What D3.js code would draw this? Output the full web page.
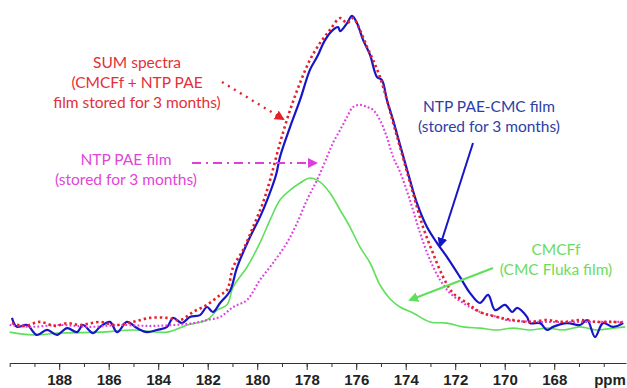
<!DOCTYPE html>
<html>
<head>
<meta charset="utf-8">
<script src="https://cdn.jsdelivr.net/npm/d3@7"></script>
<style>
  body { margin: 0; background: #fff; }
  svg { display: block; }
  .note { font-family: Lato, "Open Sans", sans-serif; font-size: 15.5px; }
  .axis text { font-family: "Liberation Sans Narrow", "Arial Narrow", "Liberation Sans", sans-serif; font-weight: bold; font-size: 15px; fill: #222; }
</style>
</head>
<body>
<div id="chart"></div>
<script>
// chemical shift (ppm) vs intensity
const pptCmcFilm = [ // NTP PAE-CMC film
  [189.91, 2.3], [189.71, -0.6], [189.30, 0], [188.90, -3.2], [188.49, -1.6], [188.09, -3.2],
  [187.68, -1.0], [187.28, -2.3], [187.04, 0], [186.63, -2.6], [186.35, -0.6], [185.95, 1.0],
  [185.66, -2.3], [185.26, 1.0], [184.86, -1.0], [184.45, -2.3], [184.05, -1.6], [183.64, -0.6],
  [183.40, 2.3], [183.04, 0.6], [182.72, 2.6], [182.31, 3.2], [182.03, 5.8], [181.79, 4.2],
  [181.50, 7.1], [181.10, 11.0], [180.81, 18.7], [180.29, 28.4], [179.89, 34.8], [179.60, 40.3],
  [179.24, 48.4], [179.08, 54.2], [178.67, 63.9], [178.27, 72.6], [177.87, 82.3], [177.58, 86.5],
  [177.26, 91.9], [176.94, 95.2], [176.73, 96.1], [176.65, 94.8], [176.37, 97.4], [176.17, 99.7],
  [175.97, 97.4], [175.72, 91.9], [175.44, 87.1], [175.16, 80.0], [174.96, 79.0], [174.76, 72.6],
  [174.51, 66.1], [174.23, 58.1], [173.83, 46.8], [173.55, 39.4], [173.14, 31.6], [172.74, 26.5],
  [172.33, 21.9], [171.81, 15.5], [171.40, 10.3], [171.00, 7.1], [170.67, 9.7], [170.39, 4.8],
  [169.99, 6.5], [169.70, 4.2], [169.50, 5.5], [169.10, 2.6], [168.98, 0.6], [168.57, 0.6],
  [168.29, -1.6], [168.05, -0.6], [167.48, 0.6], [166.96, 0], [166.67, 1.6], [166.35, -3.9],
  [166.03, 0.6], [165.62, -0.6], [165.21, 0.6]
];

const sumSpectra = [ // SUM spectra (CMCFf + NTP PAE)
  [189.91, 0.6], [189.38, -0.3], [188.78, 1.0], [188.17, -0.3], [187.68, 0.6], [187.16, 0],
  [186.35, 1.0], [185.74, 0], [185.01, 1.0], [184.33, 2.3], [183.64, 2.3], [183.12, 1.6],
  [182.59, 4.2], [182.03, 6.5], [181.50, 9.7], [181.22, 11.3], [180.97, 18.7], [180.57, 24.2],
  [180.17, 31.6], [179.77, 39.4], [179.48, 46.8], [179.08, 58.7], [178.67, 69.4], [178.27, 78.1],
  [177.87, 85.5], [177.46, 91.0], [177.06, 95.2], [176.65, 99.0], [176.37, 97.4], [176.13, 99.0],
  [175.85, 95.2], [175.56, 89.7], [175.32, 85.5], [175.04, 80.0], [174.76, 72.6], [174.51, 65.2],
  [174.23, 57.4], [173.71, 42.6], [173.30, 31.6], [172.90, 23.2], [172.49, 15.5], [172.09, 10.3],
  [171.52, 7.1], [171.00, 4.2], [170.31, 2.6], [169.66, 1.6], [168.98, 1.0], [168.29, 1.6],
  [167.64, 1.0], [166.96, 1.6], [166.27, 1.0], [165.62, 1.0], [165.13, 0.6]
];

const ntpPaeFilm = [ // NTP PAE film
  [190.00, 0], [189.18, -0.6], [187.97, 0], [186.75, -0.6], [185.54, 0], [184.33, -0.3],
  [183.40, 0], [182.59, 0.6], [182.03, 1.6], [181.50, 2.6], [180.97, 5.8], [180.41, 8.1],
  [179.89, 14.5], [179.36, 20.0], [178.80, 26.5], [178.39, 32.9], [177.99, 40.3], [177.58, 46.8],
  [177.18, 54.2], [176.94, 58.7], [176.65, 62.9], [176.37, 67.1], [176.13, 70.3], [175.85, 71.0],
  [175.56, 70.3], [175.32, 69.4], [175.04, 66.1], [174.76, 60.6], [174.51, 54.2], [174.23, 49.4],
  [173.83, 40.3], [173.42, 29.7], [173.02, 21.0], [172.61, 14.5], [172.21, 10.3], [171.68, 7.1],
  [171.00, 4.2], [170.31, 2.6], [169.91, 1.6], [168.57, 1.0], [166.96, 1.0], [165.13, 1.0]
];

const cmcfFilm = [ // CMCFf (CMC Fluka film)
  [190.00, -2.3], [189.06, -3.2], [187.97, -2.6], [186.35, -2.3], [185.01, -1.6], [183.64, -2.3],
  [182.83, 0], [182.03, 1.6], [181.62, 4.8], [181.22, 6.5], [180.97, 12.3], [180.41, 18.7],
  [179.89, 26.5], [179.48, 33.9], [179.08, 40.3], [178.67, 43.5], [178.27, 45.8], [177.87, 47.4],
  [177.46, 46.1], [177.06, 42.6], [176.65, 37.1], [176.25, 31.6], [175.85, 25.2], [175.44, 20.0],
  [175.04, 12.9], [174.63, 8.4], [174.23, 5.8], [173.71, 3.9], [173.02, 1.0], [172.33, 0.6],
  [171.68, -0.6], [171.00, -1.0], [170.31, -1.6], [169.66, -1.0], [168.98, -1.6], [168.29, -1.0],
  [167.64, -1.6], [166.96, -0.6], [166.27, -1.6], [165.62, -1.0], [165.13, -0.6]
];

const majorTicks = [188, 186, 184, 182, 180, 178, 176, 174, 172, 170, 168];
const minorTicks = d3.range(166, 191, 1);

const width = 627, height = 388;

const svg = d3.select('#chart').append('svg')
  .attr('width', width)
  .attr('height', height);

// x runs high -> low, like an NMR spectrum
const x = d3.scaleLinear().domain([190, 165.1]).range([9.7, 626]);
const y = d3.scaleLinear().domain([0, 100]).range([325, 15]);

const axisY = 363;

// minor ticks first, then major ticks with labels
const minorAxis = d3.axisBottom(x)
  .tickValues(minorTicks)
  .tickSize(4)
  .tickSizeOuter(0)
  .tickFormat('');
svg.append('g')
  .attr('class', 'axis')
  .attr('transform', `translate(0,${axisY})`)
  .call(minorAxis)
  .call(g => g.selectAll('line, path').attr('stroke', '#333').attr('stroke-width', 1));

const majorAxis = d3.axisBottom(x)
  .tickValues(majorTicks)
  .tickSize(7)
  .tickPadding(4)
  .tickFormat(d3.format('d'));
const majorG = svg.append('g')
  .attr('class', 'axis')
  .attr('transform', `translate(0,${axisY})`)
  .call(majorAxis);
majorG.select('.domain').remove();
majorG.selectAll('line').attr('stroke', '#333');

majorG.append('text')
  .attr('x', 610)
  .attr('y', 11)
  .attr('dy', '0.71em')
  .attr('text-anchor', 'middle')
  .text('ppm');

const line = d3.line()
  .x(d => x(d[0]))
  .y(d => y(d[1]))
  .curve(d3.curveCatmullRom.alpha(0.5));

svg.append('path').datum(cmcfFilm)
  .attr('d', line)
  .attr('fill', 'none')
  .attr('stroke', '#5fe05a')
  .attr('stroke-width', 1.6);

svg.append('path').datum(pptCmcFilm)
  .attr('d', line)
  .attr('fill', 'none')
  .attr('stroke', '#1616c8')
  .attr('stroke-width', 2.2);

svg.append('path').datum(ntpPaeFilm)
  .attr('d', line)
  .attr('fill', 'none')
  .attr('stroke', '#dc3fdc')
  .attr('stroke-width', 2.1)
  .attr('stroke-dasharray', '1.8,2.2');

svg.append('path').datum(sumSpectra)
  .attr('d', line)
  .attr('fill', 'none')
  .attr('stroke', '#e5202a')
  .attr('stroke-width', 2.6)
  .attr('stroke-dasharray', '2.4,3');

// arrow heads
const defs = svg.append('defs');
[['red', '#e5202a'], ['mag', '#dc3fdc'], ['blue', '#1616c8'], ['green', '#5fe05a']].forEach(([id, c]) => {
  defs.append('marker')
    .attr('id', 'arr-' + id)
    .attr('viewBox', '0 0 10 10')
    .attr('refX', 8).attr('refY', 5)
    .attr('markerWidth', 10).attr('markerHeight', 10)
    .attr('markerUnits', 'userSpaceOnUse')
    .attr('orient', 'auto')
    .append('path')
    .attr('d', 'M0,0 L10,5 L0,10 z')
    .attr('fill', c);
});

// annotations
const notes = [
  { lines: ['SUM spectra', '(CMCFf + NTP PAE', 'film stored for 3 months)'], x: 137, y: 68, color: '#e42f37' },
  { lines: ['NTP PAE film', '(stored for 3 months)'], x: 126, y: 165, color: '#e046d8' },
  { lines: ['NTP PAE-CMC film', '(stored for 3 months)'], x: 489, y: 112, color: '#2d3ea6' },
  { lines: ['CMCFf', '(CMC Fluka film)'], x: 556, y: 255, color: '#6cdc5c' }
];
notes.forEach(n => {
  const t = svg.append('text')
    .attr('class', 'note')
    .attr('text-anchor', 'middle')
    .attr('fill', n.color);
  n.lines.forEach((s, i) => {
    t.append('tspan').attr('x', n.x).attr('y', n.y + i * 20).text(s);
  });
});

const arrows = [
  { from: [222, 82], to: [283, 119], color: '#e5202a', id: 'red', w: 2.4, dash: '2,5' },
  { from: [192, 163], to: [316, 163], color: '#dc3fdc', id: 'mag', w: 2.2, dash: '9,5,2,5' },
  { from: [473, 143], to: [440, 246], color: '#1616c8', id: 'blue', w: 2, dash: null },
  { from: [493, 268], to: [410, 300], color: '#5fe05a', id: 'green', w: 2.2, dash: null }
];
arrows.forEach(a => {
  svg.append('line')
    .attr('x1', a.from[0]).attr('y1', a.from[1])
    .attr('x2', a.to[0]).attr('y2', a.to[1])
    .attr('stroke', a.color)
    .attr('stroke-width', a.w)
    .attr('stroke-dasharray', a.dash)
    .attr('marker-end', `url(#arr-${a.id})`);
});
</script>
</body>
</html>
